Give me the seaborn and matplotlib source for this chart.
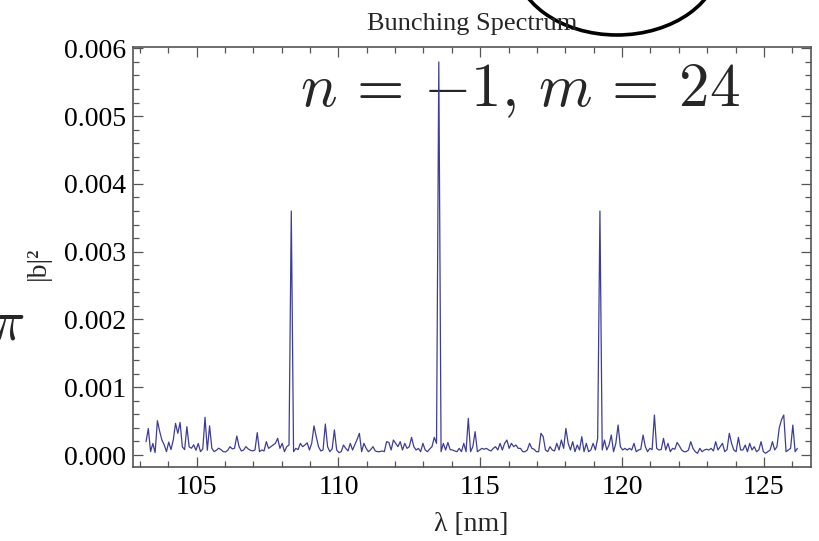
import numpy as np
import pandas as pd
import matplotlib
matplotlib.use("Agg")
import matplotlib.pyplot as plt
import seaborn as sns
from matplotlib.patches import Ellipse
from matplotlib.ticker import MultipleLocator, FixedLocator

# ---------------- data ----------------
wavelength_start_nm = 103.22
wavelength_step_nm = 0.08
# |b|^2 in units of 1e-4, one value per sample
bunching_e4 = [
    1.97, 3.9, 0.5, 1.7, 0.35, 5.06, 3.5, 2.2, 1.5, 0.5, 1.9, 0.8,
    2.2, 4.67, 3.2, 4.8, 1.2, 0.8, 4.18, 1.2, 1.0, 1.5, 0.7, 1.7,
    0.5, 0.9, 5.56, 0.7, 4.3, 1.0, 0.5, 0.7, 1.0, 0.8, 0.5, 0.45,
    0.7, 1.23, 0.9, 1.0, 2.8, 1.23, 0.6, 0.74, 1.23, 0.9, 0.7, 0.6,
    0.74, 3.3, 0.5, 0.74, 0.6, 1.97, 0.98, 1.23, 1.47, 1.72, 2.46, 0.98,
    1.72, 0.49, 1.23, 1.47, 36.0, 0.49, 0.98, 0.8, 1.72, 1.23, 1.47, 1.8,
    0.74, 1.72, 4.3, 2.7, 1.23, 0.6, 0.74, 4.57, 1.23, 0.49, 0.9, 3.7,
    0.74, 0.35, 0.49, 1.47, 0.98, 0.6, 1.72, 0.74, 1.5, 2.3, 3.2, 0.49,
    1.72, 0.98, 0.49, 0.8, 1.23, 0.6, 0.49, 0.49, 0.6, 0.49, 1.97, 1.85,
    0.74, 2.21, 1.72, 1.23, 1.97, 0.74, 1.72, 0.98, 1.23, 2.6, 1.23, 0.74,
    0.98, 0.49, 1.72, 0.74, 0.49, 0.9, 1.23, 2.6, 1.72, 58.0, 0.49, 1.72,
    0.74, 1.85, 0.8, 0.74, 0.6, 0.49, 0.98, 0.49, 1.72, 0.49, 5.4, 0.49,
    1.23, 3.44, 0.49, 0.74, 0.98, 0.85, 0.98, 0.74, 0.6, 0.98, 1.23, 0.74,
    1.72, 0.74, 1.72, 2.21, 0.98, 1.72, 1.23, 1.47, 0.98, 0.98, 0.49, 0.49,
    0.74, 1.72, 0.98, 0.85, 0.49, 0.49, 3.2, 2.7, 0.74, 0.49, 1.23, 0.74,
    0.6, 1.72, 0.74, 2.21, 0.98, 3.93, 1.72, 0.74, 1.97, 0.49, 1.47, 0.74,
    2.7, 0.49, 1.72, 0.49, 0.74, 1.72, 0.74, 2.46, 36.0, 0.74, 2.21, 0.74,
    1.47, 2.95, 0.49, 1.72, 4.42, 1.23, 0.74, 0.98, 0.74, 0.98, 0.74, 1.72,
    0.49, 0.74, 0.85, 2.95, 1.23, 0.49, 0.98, 0.8, 5.9, 0.98, 0.74, 0.8,
    2.46, 0.74, 1.72, 0.49, 0.98, 0.85, 1.85, 1.35, 0.74, 0.49, 0.49, 0.74,
    1.97, 0.98, 0.49, 0.25, 0.98, 0.49, 0.74, 0.85, 0.74, 0.98, 0.6, 1.97,
    0.74, 1.23, 1.72, 0.49, 0.8, 3.2, 1.72, 0.74, 0.49, 2.6, 0.74, 0.74,
    1.47, 0.49, 1.72, 0.74, 1.23, 0.49, 0.74, 1.97, 0.49, 0.25, 0.49, 0.74,
    1.97, 0.74, 1.23, 4.0, 5.2, 5.9, 0.49, 0.74, 0.98, 4.42, 0.49, 0.98,
]

x_ticks = [105, 110, 115, 120, 125]
y_ticks = [0.000, 0.001, 0.002, 0.003, 0.004, 0.005, 0.006]
y_tick_labels = ["0.000", "0.001", "0.002", "0.003", "0.004", "0.005", "0.006"]
title_text = "Bunching Spectrum"
x_label = "λ [nm]"
y_label = "|b|²"
annotation_text = r"$n\,=\,{-}1,\,m\,=\,24$"
side_symbol = r"$\pi$"

# ---------------- build table ----------------
n = len(bunching_e4)
wavelength = wavelength_start_nm + wavelength_step_nm * np.arange(n)
df = pd.DataFrame({"wavelength": wavelength,
                   "b2": np.array(bunching_e4) * 1e-4})

# ---------------- style ----------------
sns.set_theme(style="ticks")
plt.rcParams["font.family"] = ["Liberation Serif", "DejaVu Serif"]
plt.rcParams["mathtext.fontset"] = "cm"

W, H = 819, 541
fig = plt.figure(figsize=(W / 100, H / 100), dpi=100)
fig.patch.set_facecolor("white")

ax_l, ax_r, ax_t, ax_b = 132.7, 811.0, 47.0, 467.0
ax = fig.add_axes([ax_l / W, 1 - ax_b / H, (ax_r - ax_l) / W, (ax_b - ax_t) / H])

sns.lineplot(data=df, x="wavelength", y="b2", ax=ax, color="#3d3d99",
             lw=0.9, estimator=None, zorder=3)

ax.set_xlim(102.75, 126.66)
ax.set_ylim(-0.000177, 0.00602)
ax.xaxis.set_major_locator(FixedLocator(x_ticks))
ax.xaxis.set_minor_locator(MultipleLocator(1))
ax.yaxis.set_major_locator(FixedLocator(y_ticks))
ax.set_yticklabels(y_tick_labels)
ax.yaxis.set_minor_locator(MultipleLocator(0.0002))
ax.set_xlabel("")
ax.set_ylabel("")

for s in ax.spines.values():
    s.set_color("#555555")
    s.set_linewidth(1.2)
ax.tick_params(which="both", direction="in", top=True, right=True,
               color="#555555", width=0.9)
ax.tick_params(which="major", length=7, labelsize=20, labelcolor="black")
ax.tick_params(axis="x", which="major", pad=6)
ax.tick_params(axis="y", which="major", pad=5)
ax.tick_params(which="minor", length=4)

# annotation inside the plot (behind the line)
ax.text((300 - ax_l) / (ax_r - ax_l), (ax_b - 106) / (ax_b - ax_t),
        annotation_text, transform=ax.transAxes, fontsize=44,
        ha="left", va="baseline", zorder=1)

# title, axis labels
fig.text(472 / W, 1 - 30 / H, title_text, ha="center", va="baseline",
         fontsize=19)
fig.text(471 / W, 1 - 531 / H, x_label, ha="center", va="baseline",
         fontsize=20)
fig.text(38 / W, 1 - 263 / H, y_label, ha="center", va="center",
         rotation=90, fontsize=20)

# large cropped pi at the left edge
fig.text(-10 / W, 1 - 340 / H, side_symbol, ha="left", va="baseline",
         fontsize=41)

# cropped ellipse arc at the top
fig.add_artist(Ellipse((617 / W, 1 - (-40) / H), 206 / W, 150 / H,
                       transform=fig.transFigure, fill=False,
                       edgecolor="black", lw=2.6, zorder=0))

fig.savefig("out.png", dpi=100)
